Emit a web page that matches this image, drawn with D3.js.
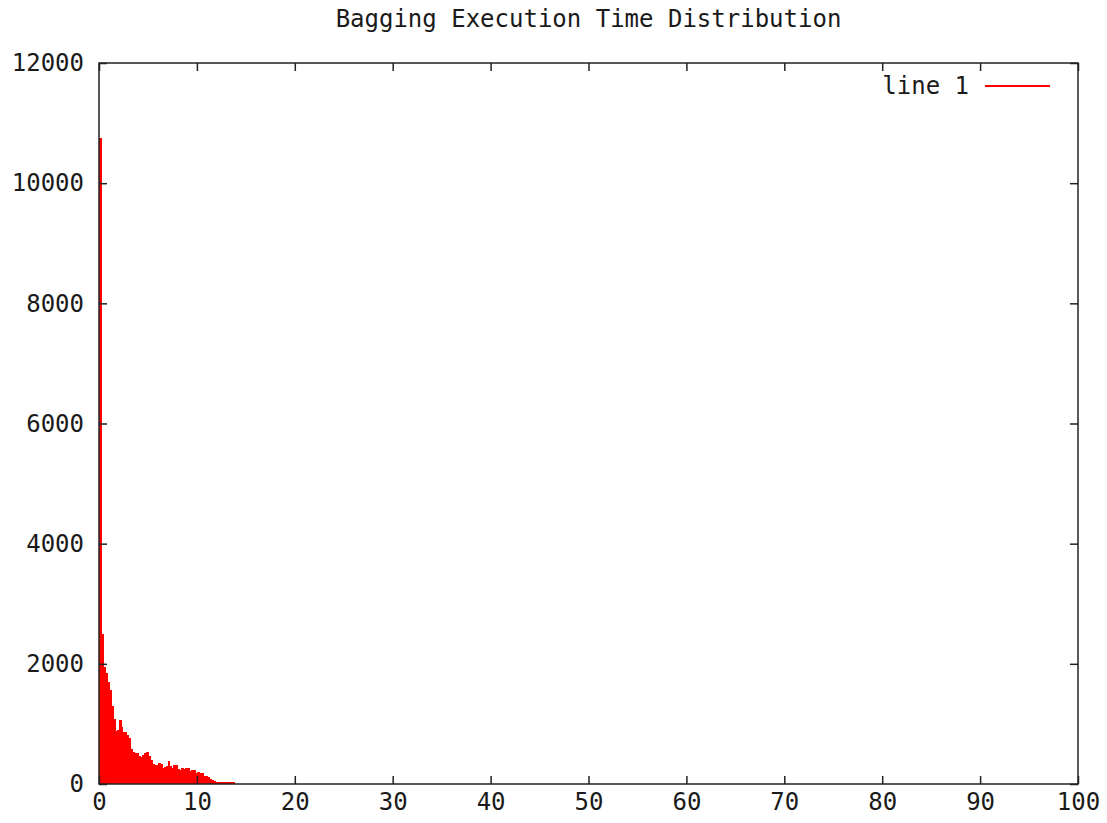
<!DOCTYPE html>
<html>
<head>
<meta charset="utf-8">
<script src="https://cdn.jsdelivr.net/npm/d3@7"></script>
<style>
  body { margin: 0; background: #fff; }
  text { font-family: "DejaVu Sans Mono", monospace; font-size: 24px; fill: #1a1a1a; }
</style>
</head>
<body>
<script>
var width = 1107, height = 823;
var margin = { top: 63, right: 29, bottom: 39, left: 99 };

var title = "Bagging Execution Time Distribution";
var seriesName = "line 1";

// histogram bins, 0.2 wide, starting at 0
var binWidth = 0.2;
var counts = [10750, 2500, 1950, 1850, 1700, 1560, 1300, 1080, 880, 900,
    1060, 950, 870, 860, 820, 770, 580, 530, 510, 510,
    470, 450, 480, 520, 530, 460, 400, 330, 310, 320,
    350, 340, 270, 285, 300, 380, 300, 265, 310, 315,
    245, 240, 265, 245, 260, 265, 220, 235, 240, 180,
    200, 185, 180, 140, 130, 110, 90, 65, 45, 38,
    38, 36, 36, 35, 35, 34, 34, 33, 32];

var xTicks = [0, 10, 20, 30, 40, 50, 60, 70, 80, 90, 100];
var yTicks = [0, 2000, 4000, 6000, 8000, 10000, 12000];

var bins = counts.map(function(c, i) {
    return { x0: i * binWidth, x1: (i + 1) * binWidth, count: c };
});

var x = d3.scaleLinear().domain([0, 100]).range([margin.left, width - margin.right]);
var y = d3.scaleLinear().domain([0, 12000]).range([height - margin.bottom, margin.top]);

var svg = d3.select("body").append("svg")
    .attr("width", width)
    .attr("height", height);

svg.append("text")
    .attr("x", (margin.left + width - margin.right) / 2)
    .attr("y", 27)
    .attr("text-anchor", "middle")
    .text(title);

svg.append("g")
    .attr("shape-rendering", "crispEdges")
    .selectAll("rect")
    .data(bins)
    .enter().append("rect")
    .attr("x", function(d) { return x(d.x0); })
    .attr("width", function(d) { return x(d.x1) - x(d.x0) + 1; })
    .attr("y", function(d) { return y(d.count); })
    .attr("height", function(d) { return y(0) - y(d.count); })
    .attr("fill", "#ff0000");

var tickLen = 8;
var axisColor = "#222";

// ticks on all four sides, pointing inward
var axBottom = svg.append("g")
    .attr("transform", "translate(0," + y(0) + ")")
    .call(d3.axisBottom(x).tickValues(xTicks).tickSize(-tickLen).tickPadding(14).tickFormat(d3.format("d")));
var axTop = svg.append("g")
    .attr("transform", "translate(0," + y(12000) + ")")
    .call(d3.axisTop(x).tickValues(xTicks).tickSize(-tickLen).tickFormat(""));
var axLeft = svg.append("g")
    .attr("transform", "translate(" + x(0) + ",0)")
    .call(d3.axisLeft(y).tickValues(yTicks).tickSize(-tickLen).tickPadding(15).tickFormat(d3.format("d")));
var axRight = svg.append("g")
    .attr("transform", "translate(" + x(100) + ",0)")
    .call(d3.axisRight(y).tickValues(yTicks).tickSize(-tickLen).tickFormat(""));

[axBottom, axTop, axLeft, axRight].forEach(function(g) {
    g.select(".domain").remove();
    g.selectAll("line").attr("stroke", axisColor).attr("stroke-width", 1.5);
    g.selectAll("text")
        .style("font-family", "DejaVu Sans Mono, monospace")
        .style("font-size", "24px")
        .attr("fill", "#1a1a1a");
});
axBottom.selectAll("text").attr("dy", "0.5em");

svg.append("rect")
    .attr("x", x(0))
    .attr("y", y(12000))
    .attr("width", x(100) - x(0))
    .attr("height", y(0) - y(12000))
    .attr("fill", "none")
    .attr("stroke", axisColor)
    .attr("stroke-width", 1.5);

// legend
var legend = svg.append("g");
legend.append("text")
    .attr("x", 969)
    .attr("y", 86)
    .attr("dy", "0.35em")
    .attr("text-anchor", "end")
    .text(seriesName);
legend.append("line")
    .attr("x1", 985).attr("x2", 1050)
    .attr("y1", 86).attr("y2", 86)
    .attr("stroke", "#ff0000")
    .attr("stroke-width", 2);
</script>
</body>
</html>
